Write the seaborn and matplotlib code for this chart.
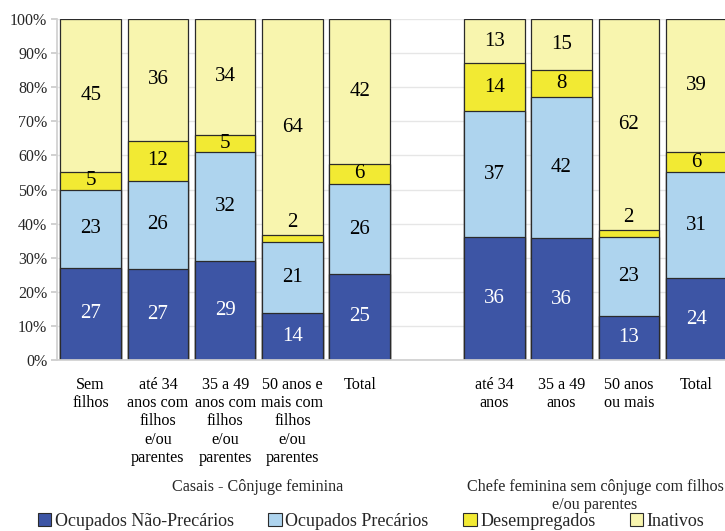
import matplotlib
matplotlib.use("Agg")
import matplotlib.pyplot as plt
import matplotlib.patches as mpatches
from matplotlib.ticker import FuncFormatter
import seaborn as sns
import numpy as np
import pandas as pd

categories = [
    "Sem\nfilhos",
    "até 34\nanos com\nfilhos\ne/ou\nparentes",
    "35 a 49\nanos com\nfilhos\ne/ou\nparentes",
    "50 anos e\nmais com\nfilhos\ne/ou\nparentes",
    "Total",
    "até 34\nanos",
    "35 a 49\nanos",
    "50 anos\nou mais",
    "Total",
]
positions = [0, 1, 2, 3, 4, 6, 7, 8, 9]
series_names = ["Ocupados Não-Precários", "Ocupados Precários", "Desempregados", "Inativos"]
ocup_nao_prec = [27, 27, 29, 14, 25, 36, 36, 13, 24]
ocup_prec = [23, 26, 32, 21, 26, 37, 42, 23, 31]
desempregados = [5, 12, 5, 2, 6, 14, 8, 2, 6]
inativos = [45, 36, 34, 64, 42, 13, 15, 62, 39]
group_labels = ["Casais - Cônjuge feminina", "Chefe feminina sem cônjuge com filhos\ne/ou parentes"]

colors = ["#3D55A5", "#AED4EE", "#F2EA33", "#F8F5AE"]
text_colors = ["white", "black", "black", "black"]

sns.set_theme(style="whitegrid")
plt.rcParams["font.family"] = ["Liberation Serif", "DejaVu Serif"]

vals = np.array([ocup_nao_prec, ocup_prec, desempregados, inativos], dtype=float)
norm = vals / vals.sum(axis=0) * 100
cum = np.cumsum(norm, axis=0)
bottoms = cum - norm

fig = plt.figure(figsize=(7.25, 5.31), dpi=100)
ax = fig.add_axes([57 / 725, 1 - 360 / 531, 1 - 57 / 725, (360 - 19) / 531])

for i in reversed(range(4)):
    df = pd.DataFrame({"x": positions, "y": cum[i]})
    sns.barplot(data=df, x="x", y="y", native_scale=True, color=colors[i],
                saturation=1, width=0.9, edgecolor="#2b2b2b", linewidth=0.9,
                ax=ax, zorder=2)

for i in range(4):
    for j, p in enumerate(positions):
        v = vals[i, j]
        if v < 4:
            y = cum[i, j] + 3.8
            c = "black"
        else:
            y = bottoms[i, j] + norm[i, j] / 2
            c = text_colors[i]
        ax.text(p, y, f"{int(v)}", ha="center", va="center", color=c, fontsize=15, zorder=5)

ax.set_xlim(-0.5, 9.43)
ax.set_ylim(0, 100)
ax.set_yticks(np.arange(0, 101, 10))
ax.yaxis.set_major_formatter(FuncFormatter(lambda v, _: f"{int(v)}%"))
ax.set_xticks(positions)
ax.set_xticklabels(categories, fontsize=11.6, linespacing=1.2)
ax.tick_params(axis="x", length=0, pad=12, colors="black")
ax.tick_params(axis="y", length=4, color="#cccccc", labelsize=11.5, pad=3, left=True)
ax.set_xlabel("")
ax.set_ylabel("")
ax.grid(axis="x", visible=False)
ax.grid(axis="y", color="#e6e6e6", linewidth=1, zorder=0)
ax.set_axisbelow(True)
for s in ["top", "right"]:
    ax.spines[s].set_visible(False)
ax.spines["left"].set_color("#d0d0d0")
ax.spines["bottom"].set_color("#d0d0d0")
ax.set_facecolor("white")

fig.text(258 / 725, 1 - 487 / 531, group_labels[0], ha="center", va="center", fontsize=11.6)
fig.text(595 / 725, 1 - 496 / 531, group_labels[1], ha="center", va="center", fontsize=11.6,
         linespacing=1.2)

handles = [mpatches.Patch(facecolor=colors[i], edgecolor="#2b2b2b", linewidth=0.8, label=series_names[i])
           for i in range(4)]
fig.legend(handles=handles, loc="center", bbox_to_anchor=(0.512, 1 - 521 / 531), ncol=4,
           frameon=False, fontsize=13, handlelength=0.75, handleheight=0.75,
           handletextpad=0.2, columnspacing=1.9, borderaxespad=0, borderpad=0)

fig.savefig("out.png", dpi=100)
